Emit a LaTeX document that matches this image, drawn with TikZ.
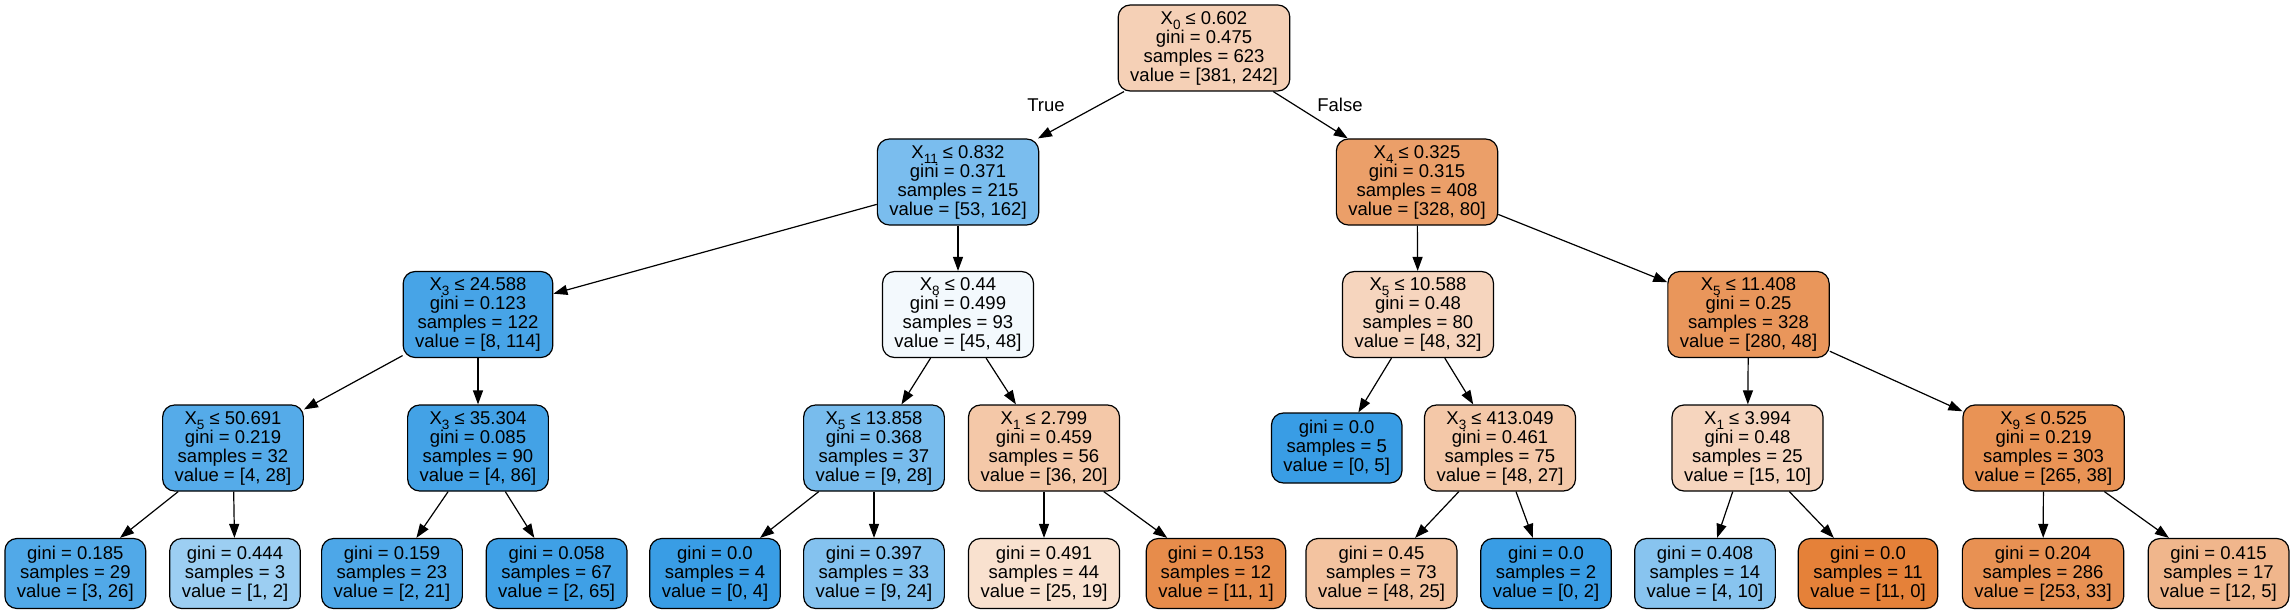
\documentclass[tikz,border=0pt]{standalone}
\usepackage{fontspec}
\setmainfont{Liberation Sans}
\usepackage{tikz}
\usetikzlibrary{arrows.meta}

\definecolor{clsA}{RGB}{229,129,57}
\definecolor{clsB}{RGB}{57,157,229}
\newcommand{\fsub}[1]{\raisebox{-5bp}{\fontsize{13.5bp}{13.5bp}\selectfont #1}}

\begin{document}
\begin{tikzpicture}[x=1bp, y=-1bp, ->, >={Triangle[length=14bp,width=10bp]}, line width=1.2bp,
    split/.style={draw, rounded corners=12bp, align=center, inner xsep=12bp, inner ysep=0pt,
                  minimum height=86bp, font=\fontsize{18.5bp}{19bp}\selectfont},
    leaf/.style={split, minimum height=70bp},
    elabel/.style={font=\fontsize{18.5bp}{19bp}\selectfont}]

    \useasboundingbox (0,0) rectangle (2293,615);

    % Root

    \node[split, fill=clsA!37] (root) at (1204,48) {X\fsub{0} ≤ 0.602\\gini = 0.475\\samples = 623\\value = [381, 242]}; %

    % Depth 1
    \node[split, fill=clsB!67] (L) at (958,182) {X\fsub{11} ≤ 0.832\\gini = 0.371\\samples = 215\\value = [53, 162]}; %
    \node[split, fill=clsA!76] (R) at (1417,182) {X\fsub{4} ≤ 0.325\\gini = 0.315\\samples = 408\\value = [328, 80]}; %

    % Depth 2
    \node[split, fill=clsB!93] (LL) at (478,314.5) {X\fsub{3} ≤ 24.588\\gini = 0.123\\samples = 122\\value = [8, 114]}; %
    \node[split, fill=clsB!6]  (LR) at (958,314.5) {X\fsub{8} ≤ 0.44\\gini = 0.499\\samples = 93\\value = [45, 48]}; %
    \node[split, fill=clsA!33] (RL) at (1418,314.5) {X\fsub{5} ≤ 10.588\\gini = 0.48\\samples = 80\\value = [48, 32]}; %
    \node[split, fill=clsA!83] (RR) at (1748.5,314.5) {X\fsub{5} ≤ 11.408\\gini = 0.25\\samples = 328\\value = [280, 48]}; %

    % Depth 3
    \node[split, fill=clsB!86] (LLL) at (233,448) {X\fsub{5} ≤ 50.691\\gini = 0.219\\samples = 32\\value = [4, 28]}; %
    \node[split, fill=clsB!95] (LLR) at (478,448) {X\fsub{3} ≤ 35.304\\gini = 0.085\\samples = 90\\value = [4, 86]}; %
    \node[split, fill=clsB!68] (LRL) at (874,448) {X\fsub{5} ≤ 13.858\\gini = 0.368\\samples = 37\\value = [9, 28]}; %
    \node[split, fill=clsA!44] (LRR) at (1044,448) {X\fsub{1} ≤ 2.799\\gini = 0.459\\samples = 56\\value = [36, 20]}; %
    \node[leaf, fill=clsB]     (RLL) at (1336.7,448) {gini = 0.0\\samples = 5\\value = [0, 5]}; %
    \node[split, fill=clsA!44] (RLR) at (1500,448) {X\fsub{3} ≤ 413.049\\gini = 0.461\\samples = 75\\value = [48, 27]}; %
    \node[split, fill=clsA!33] (RRL) at (1747.5,448) {X\fsub{1} ≤ 3.994\\gini = 0.48\\samples = 25\\value = [15, 10]}; %
    \node[split, fill=clsA!86] (RRR) at (2043.6,448) {X\fsub{9} ≤ 0.525\\gini = 0.219\\samples = 303\\value = [265, 38]}; %

    % Leaves
    \node[leaf, fill=clsB!88] (LLLL) at (75.3,573.5) {gini = 0.185\\samples = 29\\value = [3, 26]}; %
    \node[leaf, fill=clsB!50] (LLLR) at (235,573.5) {gini = 0.444\\samples = 3\\value = [1, 2]}; %
    \node[leaf, fill=clsB!90] (LLRL) at (392,573.5) {gini = 0.159\\samples = 23\\value = [2, 21]}; %
    \node[leaf, fill=clsB!97] (LLRR) at (556.6,573.5) {gini = 0.058\\samples = 67\\value = [2, 65]}; %
    \node[leaf, fill=clsB]    (LRLL) at (715,573.5) {gini = 0.0\\samples = 4\\value = [0, 4]}; %
    \node[leaf, fill=clsB!62] (LRLR) at (874,573.5) {gini = 0.397\\samples = 33\\value = [9, 24]}; %
    \node[leaf, fill=clsA!24] (LRRL) at (1044,573.5) {gini = 0.491\\samples = 44\\value = [25, 19]}; %
    \node[leaf, fill=clsA!91] (LRRR) at (1216,573.5) {gini = 0.153\\samples = 12\\value = [11, 1]}; %
    \node[leaf, fill=clsA!48] (RLRL) at (1381.5,573.5) {gini = 0.45\\samples = 73\\value = [48, 25]}; %
    \node[leaf, fill=clsB]    (RLRR) at (1546,573.5) {gini = 0.0\\samples = 2\\value = [0, 2]}; %
    \node[leaf, fill=clsB!60] (RRLL) at (1705,573.5) {gini = 0.408\\samples = 14\\value = [4, 10]}; %
    \node[leaf, fill=clsA]    (RRLR) at (1868,573.5) {gini = 0.0\\samples = 11\\value = [11, 0]}; %
    \node[leaf, fill=clsA!87] (RRRL) at (2043,573.5) {gini = 0.204\\samples = 286\\value = [253, 33]}; %
    \node[leaf, fill=clsA!58] (RRRR) at (2218.5,573.5) {gini = 0.415\\samples = 17\\value = [12, 5]}; %

    % Edge labels
    \node[elabel] (true)  at (1046,105) {True}; %
    \node[elabel] (false) at (1340,105) {False}; %

    \draw (root) -- (L);
    \draw (root) -- (R);
    \draw (L) -- (LL);
    \draw (L) -- (LR);
    \draw (R) -- (RL);
    \draw (R) -- (RR);
    \draw (LL) -- (LLL);
    \draw (LL) -- (LLR);
    \draw (LR) -- (LRL);
    \draw (LR) -- (LRR);
    \draw (RL) -- (RLL);
    \draw (RL) -- (RLR);
    \draw (RR) -- (RRL);
    \draw (RR) -- (RRR);
    \draw (LLL) -- (LLLL);
    \draw (LLL) -- (LLLR);
    \draw (LLR) -- (LLRL);
    \draw (LLR) -- (LLRR);
    \draw (LRL) -- (LRLL);
    \draw (LRL) -- (LRLR);
    \draw (LRR) -- (LRRL);
    \draw (LRR) -- (LRRR);
    \draw (RLR) -- (RLRL);
    \draw (RLR) -- (RLRR);
    \draw (RRL) -- (RRLL);
    \draw (RRL) -- (RRLR);
    \draw (RRR) -- (RRRL);
    \draw (RRR) -- (RRRR);

\end{tikzpicture}
\end{document}
